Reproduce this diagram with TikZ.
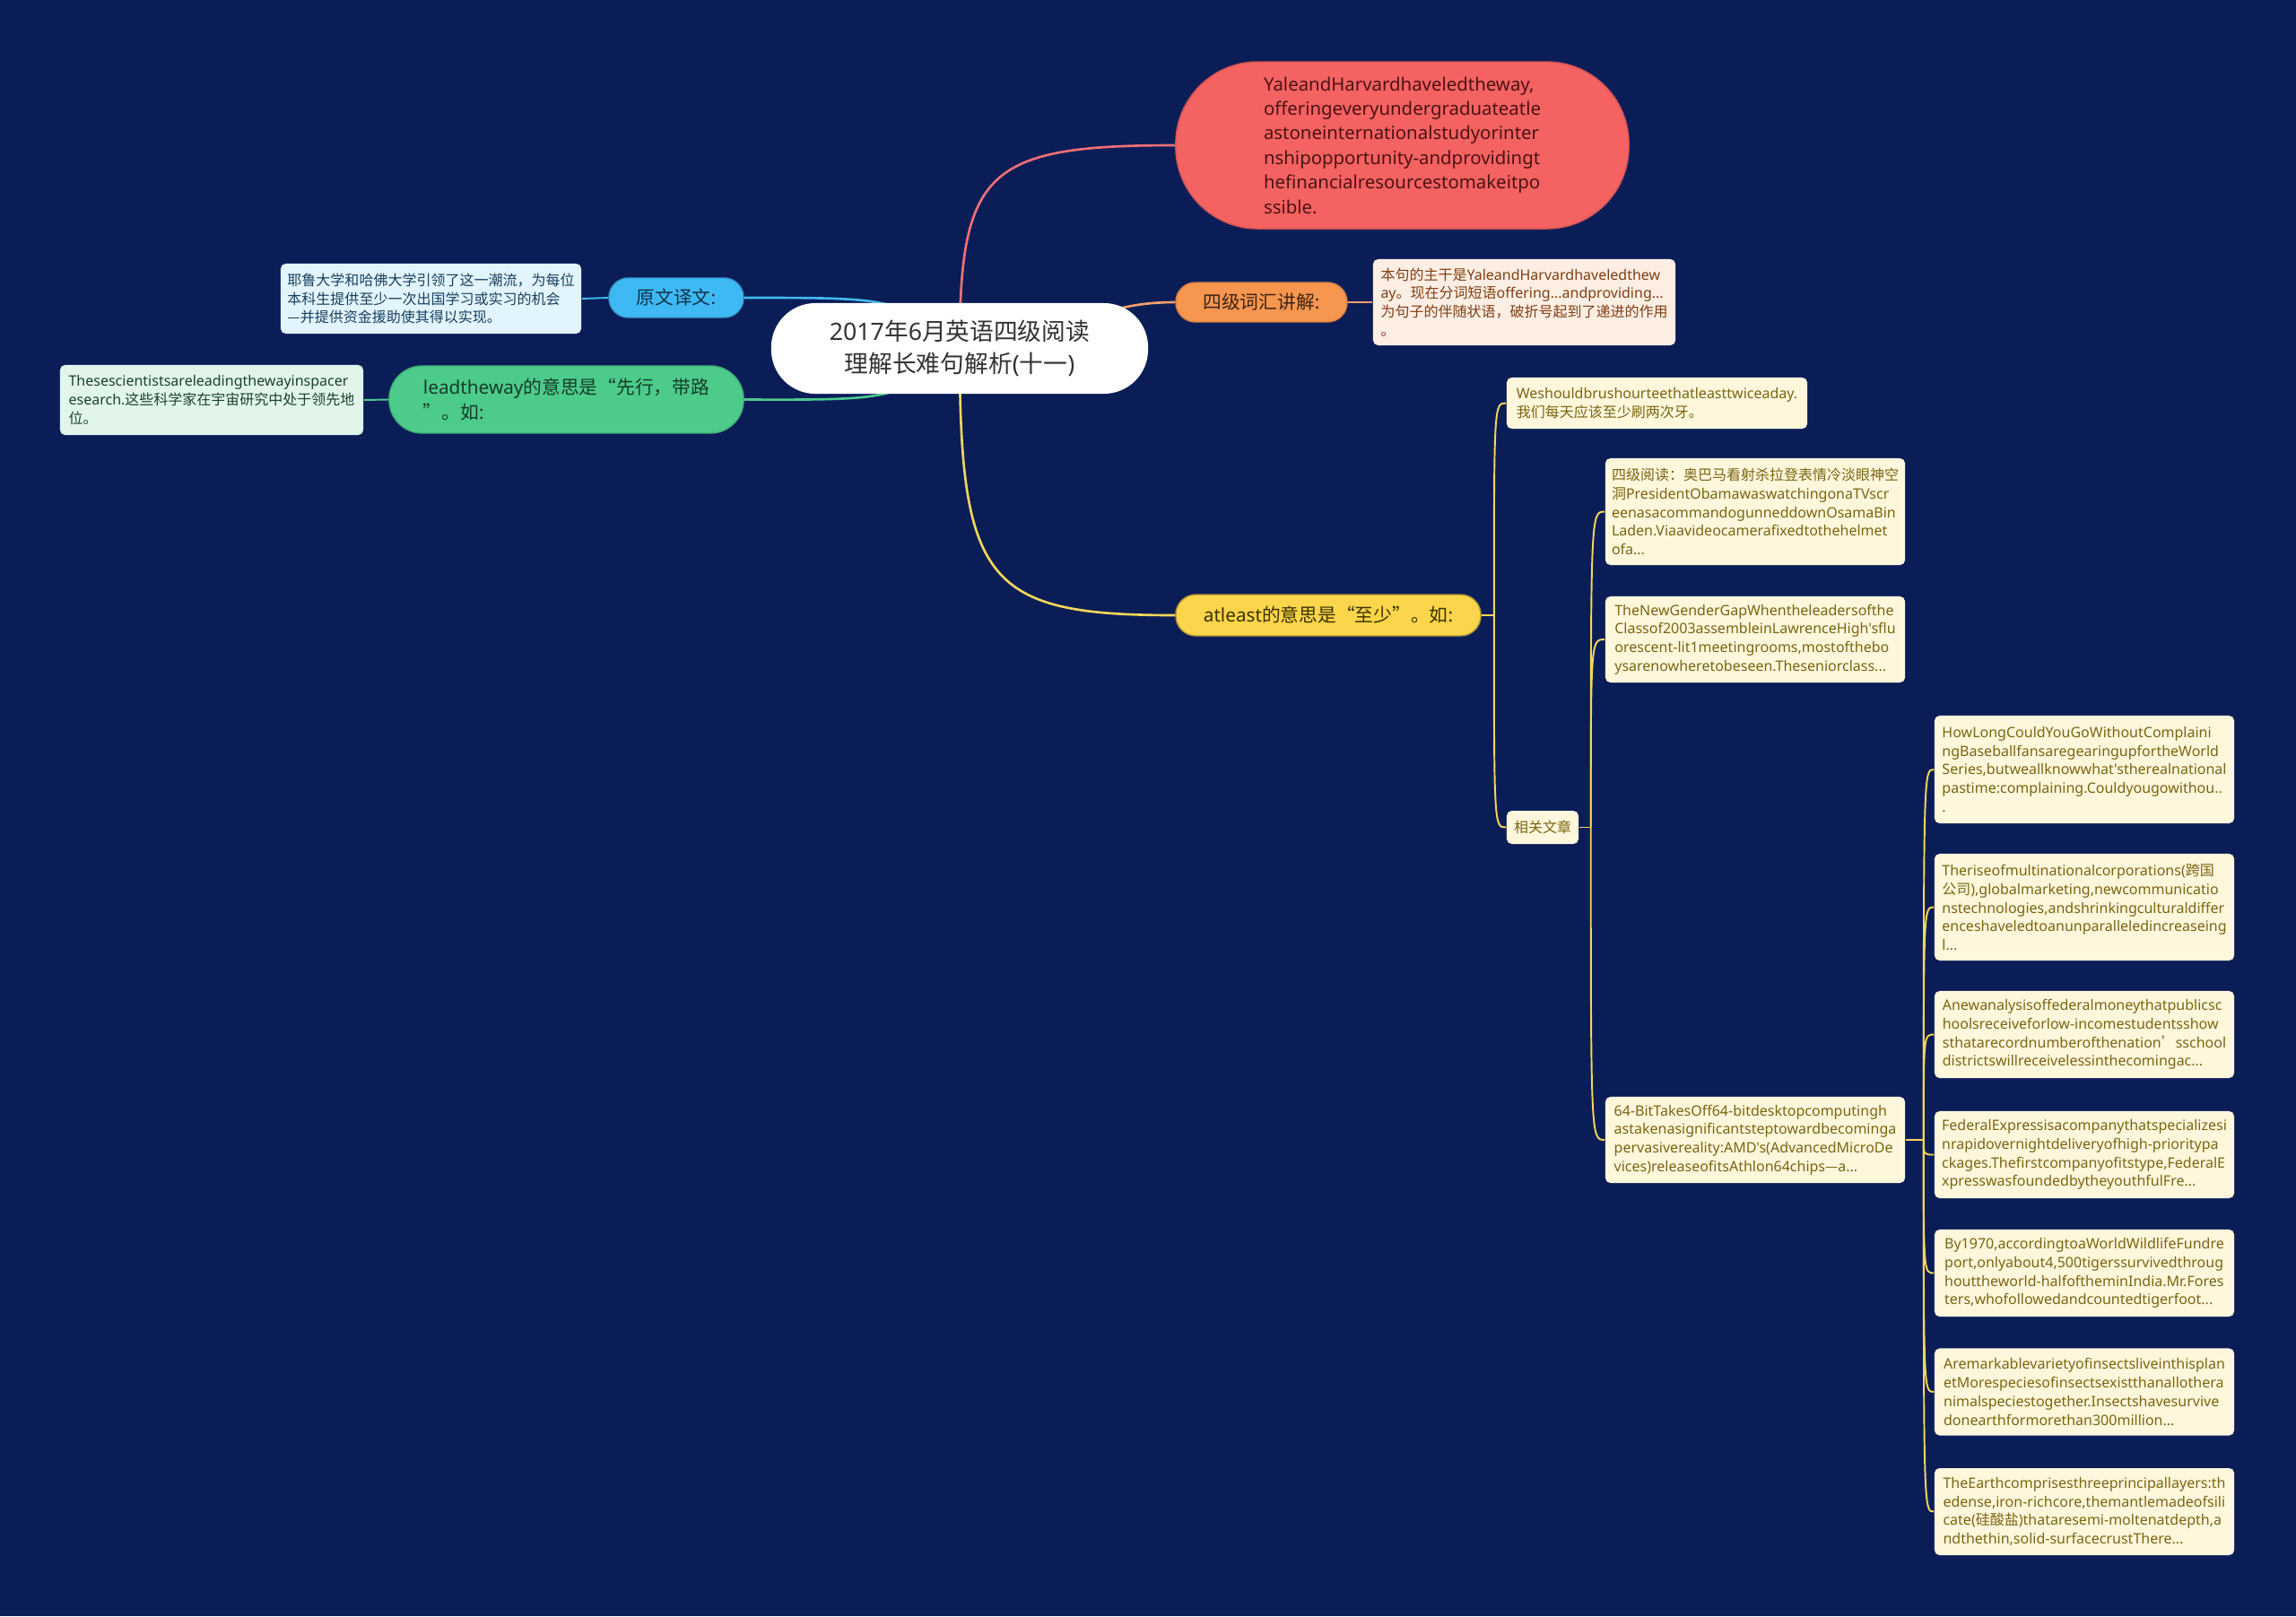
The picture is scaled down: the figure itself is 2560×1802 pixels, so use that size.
\documentclass[tikz,border=0pt]{standalone}
\usepackage{fontspec}
\setmainfont{Noto Sans}[Ligatures=TeXOff]
\newfontfamily\cjkfont{Noto Sans CJK SC}[Ligatures=TeXOff]

% CJK characters switch to the CJK family on the fly
\XeTeXinterchartokenstate=1
\newXeTeXintercharclass\cjkclass
\makeatletter
\def\cjkrange#1#2{\count@=#1\relax
  \loop\XeTeXcharclass\count@=\cjkclass
  \ifnum\count@<#2\relax\advance\count@\@ne\repeat}
\makeatother
\cjkrange{"2014}{"2014}
\cjkrange{"2018}{"201D}
\cjkrange{"3000}{"303F}
\cjkrange{"4E00}{"9FFF}
\cjkrange{"FF00}{"FFEF}
\XeTeXinterchartoks 0 \cjkclass = {\begingroup\cjkfont}
\XeTeXinterchartoks 4095 \cjkclass = {\begingroup\cjkfont}
\XeTeXinterchartoks \cjkclass 0 = {\endgroup}
\XeTeXinterchartoks \cjkclass 4095 = {\endgroup}

\definecolor{bgnavy}{HTML}{0B1D57}
\definecolor{rootink}{HTML}{333333}
\definecolor{yalered}{HTML}{F46262}
\definecolor{yaleink}{HTML}{4D1212}
\definecolor{pinkline}{HTML}{F07076}
\definecolor{orangenode}{HTML}{F6964F}
\definecolor{orangeink}{HTML}{3E2412}
\definecolor{peach}{HTML}{FDEEE4}
\definecolor{peachink}{HTML}{7F3F12}
\definecolor{orangeline}{HTML}{F3A06A}
\definecolor{bluenode}{HTML}{3FB9F4}
\definecolor{blueink}{HTML}{10324A}
\definecolor{bluepale}{HTML}{E2F4FD}
\definecolor{bluetext}{HTML}{18405E}
\definecolor{blueline}{HTML}{42B8EE}
\definecolor{greennode}{HTML}{4DCB8B}
\definecolor{greenink}{HTML}{133D27}
\definecolor{greenpale}{HTML}{E1F5EA}
\definecolor{greentext}{HTML}{1B4230}
\definecolor{greenline}{HTML}{4CC98C}
\definecolor{yellownode}{HTML}{FBD54B}
\definecolor{yellowink}{HTML}{3B3200}
\definecolor{cream}{HTML}{FFF7DC}
\definecolor{creamink}{HTML}{7A6512}
\definecolor{yellowline}{HTML}{F4D65A}

\pgfdeclarelayer{bg}
\pgfsetlayers{bg,main}

\begin{document}
\begin{tikzpicture}[x=0.01cm, y=-0.01cm,
  topic/.style={inner sep=0pt, line width=0.4pt, font=\fontsize{5.9pt}{7.8pt}\selectfont},
  leaf/.style={inner sep=0pt, rounded corners=1.6pt, align=left, font=\fontsize{4.55pt}{5.9pt}\selectfont},
  article/.style={leaf, fill=cream, text=creamink, minimum width=3.34cm},
  link/.style={line width=0.75pt},
  twig/.style={line width=0.55pt}]

  \useasboundingbox (0,0) rectangle (2560,1802);

  % ---- centre ----
  \node[topic, fill=white, text=rootink, minimum width=4.2cm, minimum height=1.01cm,
        rounded corners=14pt, align=center, font=\fontsize{7.6pt}{10.2pt}\selectfont]
    (root) at (1070,388.5) {2017年6月英语四级阅读\\理解长难句解析(十一)};

  % ---- right branches ----
  \node[topic, fill=yalered, draw=yalered!85!black, text=yaleink, minimum width=5.05cm,
        minimum height=1.86cm, rounded corners=26pt, align=left,
        font=\fontsize{5.8pt}{7.8pt}\selectfont]
    (yale) at (1563.5,162) {YaleandHarvardhaveledtheway,\\offeringeveryundergraduateatle\\astoneinternationalstudyorinter\\nshipopportunity-andprovidingt\\hefinancialresourcestomakeitpo\\ssible.};

  \node[topic, fill=orangenode, draw=orangenode!85!black, text=orangeink, minimum width=1.91cm,
        minimum height=0.44cm, rounded corners=6.2pt]
    (cihui) at (1406.5,337) {四级词汇讲解:};
  \node[leaf, fill=peach, text=peachink, minimum width=3.37cm, minimum height=0.96cm]
    (cihuileaf) at (1699.5,337) {本句的主干是YaleandHarvardhaveledthew\\ay。现在分词短语offering...andproviding...\\为句子的伴随状语，破折号起到了递进的作用\\。};

  \node[topic, fill=yellownode, draw=yellownode!70!black, text=yellowink, minimum width=3.4cm,
        minimum height=0.46cm, rounded corners=6.4pt]
    (atleast) at (1481,686) {atleast的意思是“至少”。如:};

  % ---- left branches ----
  \node[topic, fill=bluenode, draw=bluenode!85!black, text=blueink, minimum width=1.5cm,
        minimum height=0.44cm, rounded corners=6.2pt]
    (yiwen) at (754,332) {原文译文:};
  \node[leaf, fill=bluepale, text=bluetext, minimum width=3.35cm, minimum height=0.78cm]
    (yiwenleaf) at (480.5,333) {耶鲁大学和哈佛大学引领了这一潮流，为每位\\本科生提供至少一次出国学习或实习的机会\\—并提供资金援助使其得以实现。};

  \node[topic, fill=greennode, draw=greennode!85!black, text=greenink, minimum width=3.95cm,
        minimum height=0.75cm, rounded corners=10.5pt, align=left]
    (lead) at (631.5,445.5) {leadtheway的意思是“先行，带路\\”。如:};
  \node[leaf, fill=greenpale, text=greentext, minimum width=3.38cm, minimum height=0.78cm]
    (leadleaf) at (236,446) {Thesescientistsareleadingthewayinspacer\\esearch.这些科学家在宇宙研究中处于领先地\\位。};

  % ---- atleast examples ----
  \node[article, minimum width=3.35cm, minimum height=0.57cm]
    (brush) at (1847.5,449.5) {Weshouldbrushourteethatleasttwiceaday.\\我们每天应该至少刷两次牙。};
  \node[article, minimum width=0.8cm, minimum height=0.37cm]
    (xiangguan) at (1720,922.5) {相关文章};

  \node[article, minimum height=1.19cm] (obama) at (1957,570.5)
    {四级阅读：奥巴马看射杀拉登表情冷淡眼神空\\洞PresidentObamawaswatchingonaTVscr\\eenasacommandogunneddownOsamaBin\\Laden.Viaavideocamerafixedtothehelmet\\ofa...};
  \node[article, minimum height=0.96cm] (gender) at (1957,713)
    {TheNewGenderGapWhentheleadersofthe\\Classof2003assembleinLawrenceHigh'sflu\\orescent-lit1meetingrooms,mostofthebo\\ysarenowheretobeseen.Theseniorclass...};
  \node[article, minimum height=0.96cm] (bit64) at (1957,1271)
    {64-BitTakesOff64-bitdesktopcomputingh\\astakenasignificantsteptowardbecominga\\pervasivereality:AMD's(AdvancedMicroDe\\vices)releaseofitsAthlon64chips—a...};

  % ---- 64-bit follow-ups ----
  \node[article, minimum height=1.2cm] (b1) at (2324,858)
    {HowLongCouldYouGoWithoutComplaini\\ngBaseballfansaregearingupfortheWorld\\Series,butweallknowwhat'stherealnational\\pastime:complaining.Couldyougowithou..\\.};
  \node[article, minimum height=1.19cm] (b2) at (2324,1011.5)
    {Theriseofmultinationalcorporations(跨国\\公司),globalmarketing,newcommunicatio\\nstechnologies,andshrinkingculturaldiffer\\enceshaveledtoanunparalleledincreaseing\\l...};
  \node[article, minimum height=0.97cm] (b3) at (2324,1153.5)
    {Anewanalysisoffederalmoneythatpublicsc\\hoolsreceiveforlow-incomestudentsshow\\sthatarecordnumberofthenation’sschool\\districtswillreceivelessinthecomingac...};
  \node[article, minimum height=0.97cm] (b4) at (2324,1287.5)
    {FederalExpressisacompanythatspecializesi\\nrapidovernightdeliveryofhigh-prioritypa\\ckages.Thefirstcompanyofitstype,FederalE\\xpresswasfoundedbytheyouthfulFre...};
  \node[article, minimum height=0.97cm] (b5) at (2324,1419.5)
    {By1970,accordingtoaWorldWildlifeFundre\\port,onlyabout4,500tigerssurvivedthroug\\houttheworld-halfoftheminIndia.Mr.Fores\\ters,whofollowedandcountedtigerfoot...};
  \node[article, minimum height=0.97cm] (b6) at (2324,1552)
    {Aremarkablevarietyofinsectsliveinthisplan\\etMorespeciesofinsectsexistthanallothera\\nimalspeciestogether.Insectshavesurvive\\donearthformorethan300million...};
  \node[article, minimum height=0.97cm] (b7) at (2324,1685.5)
    {TheEarthcomprisesthreeprincipallayers:th\\edense,iron-richcore,themantlemadeofsili\\cate(硅酸盐)thataresemi-moltenatdepth,a\\ndthethin,solid-surfacecrustThere...};

  % ---- main branches, behind the centre ----
  \begin{pgfonlayer}{bg}
    \fill[bgnavy] (0,0) rectangle (2560,1802);
    \draw[link, pinkline] (root.center) .. controls (1070,190) and (1100,162) .. (yale.west);
    \draw[link, orangeline] (root.center) .. controls (1200,388) and (1200,337) .. (cihui.west);
    \draw[link, yellowline] (root.center) .. controls (1070,650) and (1100,686) .. (atleast.west);
    \draw[link, blueline] (root.center) .. controls (1000,332) .. (yiwen.east);
    \draw[link, greenline] (root.center) .. controls (1000,446) .. (lead.east);
  \end{pgfonlayer}

  % ---- leaves ----
  \draw[twig, blueline] (yiwen.west) -- (yiwenleaf.east);
  \draw[twig, greenline] (lead.west) -- (leadleaf.east);
  \draw[twig, orangeline] (cihui.east) -- (cihuileaf.west);

  \coordinate (yfork) at ([xshift=0.14cm]atleast.east);
  \draw[twig, yellowline] (atleast.east) -- (yfork);
  \foreach \kid in {brush, xiangguan}
    \draw[twig, yellowline] (yfork) .. controls (yfork |- \kid.west) .. (\kid.west);

  \coordinate (rfork) at ([xshift=0.13cm]xiangguan.east);
  \draw[twig, yellowline] (xiangguan.east) -- (rfork);
  \foreach \kid in {obama, gender, bit64}
    \draw[twig, yellowline] (rfork) .. controls (rfork |- \kid.west) .. (\kid.west);

  \coordinate (bfork) at ([xshift=0.2cm]bit64.east);
  \draw[twig, yellowline] (bit64.east) -- (bfork);
  \foreach \kid in {b1, b2, b3, b4, b5, b6, b7}
    \draw[twig, yellowline] (bfork) .. controls (bfork |- \kid.west) .. (\kid.west);

\end{tikzpicture}
\end{document}
